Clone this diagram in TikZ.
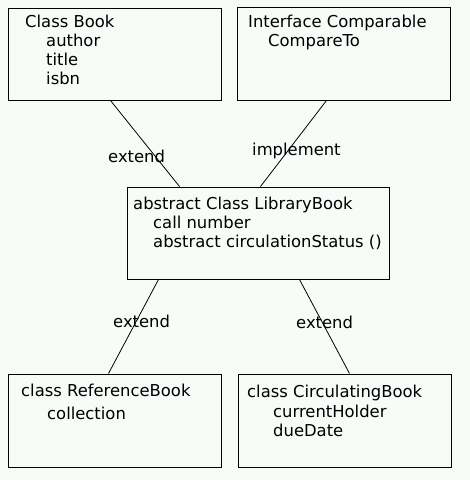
\documentclass[tikz,border=0pt]{standalone}
\usepackage{fontspec}
\setmainfont{DejaVu Sans}
\definecolor{bgc}{RGB}{248,252,248}
\begin{document}
\begin{tikzpicture}[x=1pt,y=-1pt,
  box/.style={draw=black,line width=1pt,rectangle,inner sep=0pt,minimum width=213pt,minimum height=92pt},
  txt/.style={anchor=base west,inner sep=0pt,font=\fontsize{16.4pt}{19pt}\selectfont},
  conn/.style={draw=black,line width=0.8pt}]
\fill[bgc] (0,0) rectangle (470,480);
\useasboundingbox (0,0) rectangle (470,480);
% boxes
\node[box] (book) at (114.5,54) {};
\node[box,minimum height=93pt] (iface) at (343.5,53.5) {};
\node[box,minimum width=262pt] (lib) at (258,233) {};
\node[box,minimum height=93pt] (ref) at (114.5,420.5) {};
\node[box,minimum height=93pt] (circ) at (344.5,420.5) {};
% texts
\node[txt] (b1) at (25,27) {Class Book};
\node[txt] (b2) at (46,46) {author};
\node[txt] (b3) at (46,65) {title};
\node[txt] (b4) at (46,84) {isbn};
\node[txt] (i1) at (248,27) {Interface Comparable};
\node[txt] (i2) at (268,46) {CompareTo};
\node[txt] (l1) at (133,209) {abstract Class LibraryBook};
\node[txt] (l2) at (153,228) {call number};
\node[txt] (l3) at (153,247) {abstract circulationStatus ()};
\node[txt] (r1) at (21,396) {class ReferenceBook};
\node[txt] (r2) at (47,419) {collection};
\node[txt] (c1) at (247,397) {class CirculatingBook};
\node[txt] (c2) at (273,417) {currentHolder};
\node[txt] (c3) at (273,436) {dueDate};
% connectors
\draw[conn] ([xshift=103pt]book.south west) -- ([xshift=53pt]lib.north west);
\draw[conn] ([xshift=90pt]iface.south west) -- ([xshift=134pt]lib.north west);
\draw[conn] ([xshift=32pt]lib.south west) -- ([xshift=101pt]ref.north west);
\draw[conn] ([xshift=173pt]lib.south west) -- ([xshift=112pt]circ.north west);
% labels
\node[txt] (e1) at (108,162) {extend};
\node[txt] (e2) at (252,155) {implement};
\node[txt] (e3) at (113,327) {extend};
\node[txt] (e4) at (296,328) {extend};
\end{tikzpicture}
\end{document}
